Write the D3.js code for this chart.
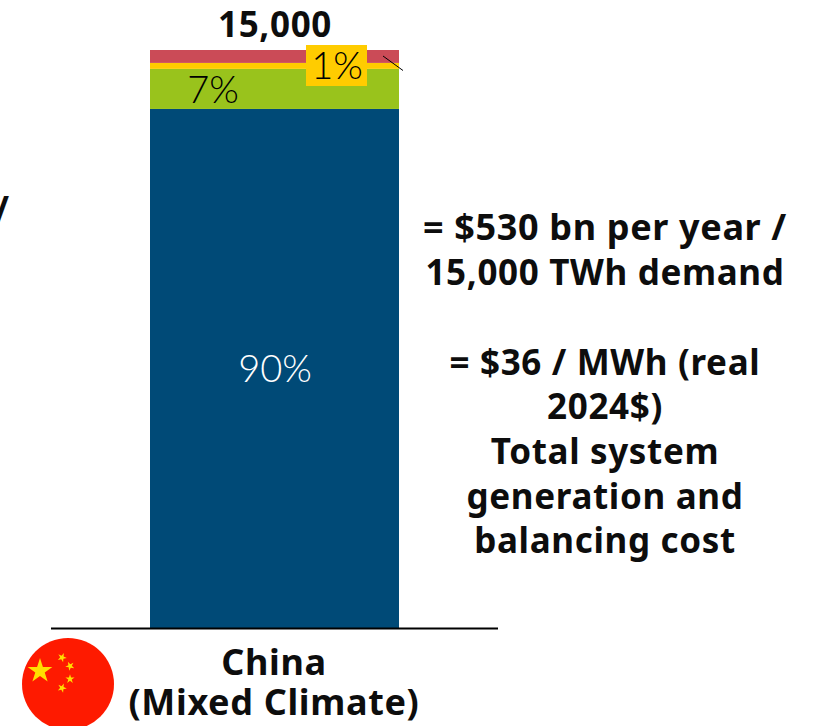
<!DOCTYPE html>
<html><head><meta charset="utf-8">
<script src="https://cdn.jsdelivr.net/npm/d3@7"></script>
<style>html,body{margin:0;padding:0;background:#fff}svg{display:block}</style>
</head><body><svg id="c" width="815" height="726"></svg>
<script>
const categories = ["China (Mixed Climate)"];
const seriesNames = ["Solar + storage", "Wind", "Other", "Firm"];
const seriesValues = [13470, 1040, 155, 335];
const seriesLabels = ["90%", "7%", "1%", ""];
const seriesColors = ["#004a77", "#99c31c", "#ffcc00", "#cb4b57"];
const totalLabel = "15,000";
const noteLines = ["= $530 bn per year /", "15,000 TWh demand", "", "= $36 / MWh (real", "2024$)", "Total system", "generation and", "balancing cost"];
const catLines = ["China", "(Mixed Climate)"];

const W = 815, H = 726;
const bold = "'Noto Sans', sans-serif", light = "Lato, sans-serif";
const svg = d3.select("#c");
const y = d3.scaleLinear().domain([0, d3.sum(seriesValues)]).range([628, 50]);
const x = d3.scaleBand().domain(categories).range([51, 498]).paddingInner(0).paddingOuter(0.3976);

let acc = 0;
const stack = seriesValues.map((v, i) => { const s = {v, i, y0: acc, y1: acc + v}; acc += v; return s; });

svg.selectAll("rect.seg").data(stack).join("rect").attr("class", "seg")
  .attr("x", x(categories[0])).attr("width", x.bandwidth())
  .attr("y", d => y(d.y1)).attr("height", d => y(d.y0) - y(d.y1))
  .attr("fill", d => seriesColors[d.i]);

svg.append("line").attr("x1", 51).attr("x2", 498).attr("y1", 628.5).attr("y2", 628.5)
  .attr("stroke", "#000").attr("stroke-width", 2);

const pct = (t, px, py, fill) => svg.append("text").attr("x", px).attr("y", py).attr("text-anchor", "middle")
  .attr("font-family", light).attr("font-weight", 300).attr("font-size", 38).attr("fill", fill).text(t);

pct(seriesLabels[0], 275, 382, "#fff");
pct(seriesLabels[1], 213, 103, "#000");
svg.append("rect").attr("x", 306).attr("y", 45).attr("width", 61).attr("height", 41).attr("fill", seriesColors[2]);
pct(seriesLabels[2], 337, 79, "#000");

svg.append("line").attr("x1", 383).attr("y1", 56).attr("x2", 403).attr("y2", 70.5)
  .attr("stroke", "#000").attr("stroke-width", 1);

const b = (t, px, py, fs) => svg.append("text").attr("x", px).attr("y", py).attr("text-anchor", "middle")
  .attr("font-family", bold).attr("font-weight", 700).attr("font-size", fs)
  .attr("letter-spacing", 0.65).attr("fill", "#0d0d0d").text(t);

b(totalLabel, 275, 37, 35);
const noteY = [240, 285, 0, 375, 419, 464, 509, 553];
noteLines.forEach((t, i) => { if (t) b(t, 605, noteY[i], i === 0 ? 36 : 35); });
b(catLines[0], 274, 675, 36);
b(catLines[1], 274, 715, 36);
svg.append("text").attr("x", 9).attr("y", 222).attr("text-anchor", "end")
  .attr("font-family", bold).attr("font-weight", 700).attr("font-size", 35).attr("fill", "#0d0d0d").text("/");

// flag
const star = (cx, cy, r, rot) => {
  const pts = d3.range(10).map(k => {
    const a = -Math.PI / 2 + rot + k * Math.PI / 5, rr = k % 2 ? r * 0.382 : r;
    return [cx + rr * Math.cos(a), cy + rr * Math.sin(a)];
  });
  svg.append("polygon").attr("points", pts.join(" ")).attr("fill", "#ffde00");
};
svg.append("circle").attr("cx", 68).attr("cy", 684).attr("r", 46).attr("fill", "#fe1a00");
star(40, 671, 13, 0);
star(62, 657.5, 4.8, 0.4);
star(70, 666, 4.8, 0.8);
star(70, 679, 4.8, 0);
star(62, 688, 4.8, 0.4);
</script></body></html>
